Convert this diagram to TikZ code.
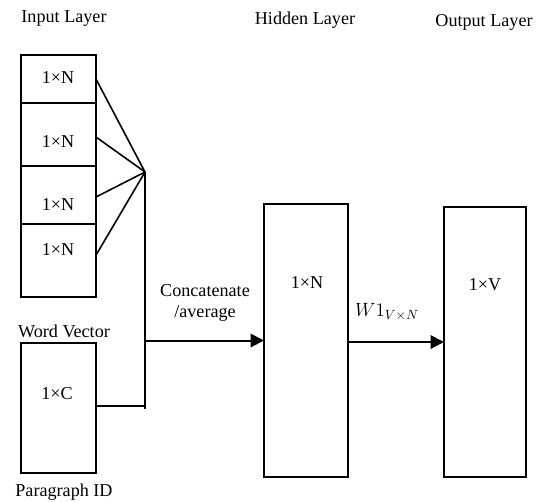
\documentclass[tikz,border=0pt]{standalone}
\usepackage{fontspec}
\setmainfont{Liberation Serif}
\usetikzlibrary{arrows.meta}

\begin{document}
\begin{tikzpicture}[
  x=0.75pt, y=-0.75pt,
  font=\fontsize{13.6}{16}\selectfont,
  box/.style={draw, line width=1.2pt, inner sep=0pt, outer sep=0pt},
  inbox/.style={box, minimum width=56.25pt},
  lbl/.style={inner sep=0pt, align=center},
  link/.style={line width=1.2pt},
  arrow/.style={line width=1.5pt, -{Triangle[length=10pt,width=10pt]}}
]
\useasboundingbox (0,0) rectangle (539,501);

% layer titles
\node[lbl] (tin) at (64,19) {Input Layer};
\node[lbl] (thid) at (305,20) {Hidden Layer};
\node[lbl] (tout) at (484,22) {Output Layer};

% input word vectors
\node[inbox, minimum height=36pt] (in1) at (58.5,79) {};
\node[inbox, minimum height=47.25pt] (in2) at (58.5,134.5) {};
\node[inbox, minimum height=43.5pt] (in3) at (58.5,195) {};
\node[inbox, minimum height=54.75pt] (in4) at (58.5,260.5) {};
\node[lbl] (n1) at (58,78) {1×N};
\node[lbl] (n2) at (58,142) {1×N};
\node[lbl] (n3) at (58,205) {1×N};
\node[lbl] (n4) at (58,250) {1×N};
\node[lbl] (tword) at (64,331) {Word Vector};

% paragraph id
\node[inbox, minimum height=97.5pt] (para) at (58.5,408) {};
\node[lbl] (nc) at (57,394) {1×C};
\node[lbl] (tpara) at (64,492) {Paragraph ID};

% hidden and output
\node[box, minimum width=63pt, minimum height=204.75pt] (hid) at (306,340.5) {};
\node[box, minimum width=61.5pt, minimum height=202.5pt] (out) at (485,342) {};
\node[lbl] (nh) at (307,283) {1×N};
\node[lbl] (no) at (485,285) {1×V};

\coordinate (hub) at (145,172);
\coordinate (bus) at (145,409);

\draw[link] (in1.east) -- (hub);
\draw[link] ([yshift=-1.9pt]in2.east) -- (hub);
\draw[link] ([yshift=-1.5pt]in3.east) -- (hub);
\draw[link] ([yshift=4pt]in4.east) -- (hub);
\draw[link] (hub) -- (bus);
\draw[link] ([yshift=1.5pt]para.east) -- ([yshift=1.5pt]para.east -| hub);

\draw[arrow] (hub |- hid.west) -- (hid.west);
\node[lbl] (tcat) at (205,303) {Concatenate\\/average};
\draw[arrow] (hid.east |- out.west) -- (out.west);
\node[lbl] (tw) at (387,312) {$W1_{V\times N}$};
\end{tikzpicture}
\end{document}
